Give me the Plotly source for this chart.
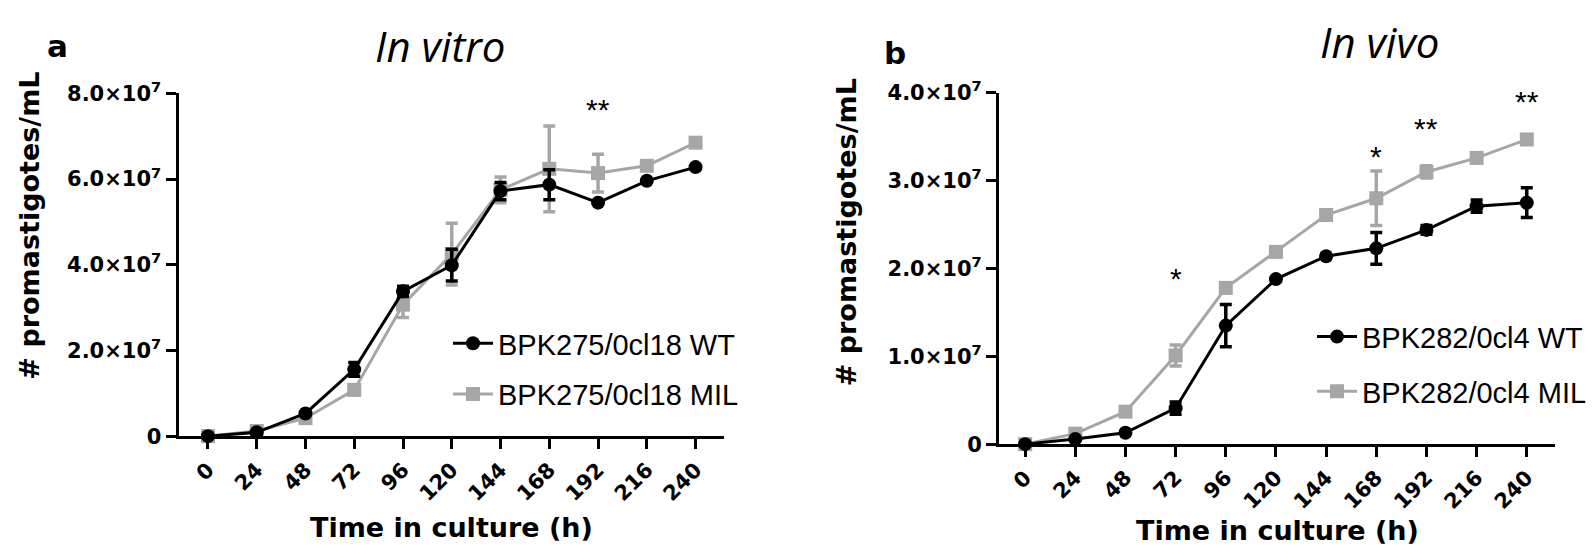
import plotly.graph_objects as go

hours = [0, 24, 48, 72, 96, 120, 144, 168, 192, 216, 240]
x_ticks = [str(h) for h in hours]

# Panel a: In vitro
vitro_wt = [0.0, 0.09e7, 0.53e7, 1.56e7, 3.38e7, 3.99e7, 5.72e7, 5.87e7, 5.45e7, 5.96e7, 6.28e7]
vitro_wt_err = [0, 0, 0, 0.16e7, 0.12e7, 0.37e7, 0.2e7, 0.35e7, 0, 0, 0]
vitro_mil = [0.0, 0.12e7, 0.42e7, 1.08e7, 3.07e7, 4.25e7, 5.75e7, 6.24e7, 6.14e7, 6.31e7, 6.85e7]
vitro_mil_err = [0, 0, 0, 0, 0.3e7, 0.72e7, 0.3e7, 1.0e7, 0.44e7, 0, 0]

# Panel b: In vivo
vivo_wt = [0.0, 0.06e7, 0.13e7, 0.41e7, 1.35e7, 1.88e7, 2.14e7, 2.23e7, 2.44e7, 2.71e7, 2.75e7]
vivo_wt_err = [0, 0, 0, 0.07e7, 0.24e7, 0, 0, 0.18e7, 0.05e7, 0.07e7, 0.17e7]
vivo_mil = [0.0, 0.12e7, 0.37e7, 1.01e7, 1.78e7, 2.19e7, 2.61e7, 2.80e7, 3.10e7, 3.26e7, 3.47e7]
vivo_mil_err = [0, 0, 0, 0.12e7, 0, 0, 0, 0.31e7, 0.07e7, 0, 0]

a_ytick_vals = [0, 2e7, 4e7, 6e7, 8e7]
a_ytick_text = ["0", "2.0×10<sup>7</sup>", "4.0×10<sup>7</sup>", "6.0×10<sup>7</sup>", "8.0×10<sup>7</sup>"]
b_ytick_vals = [0, 1e7, 2e7, 3e7, 4e7]
b_ytick_text = ["0", "1.0×10<sup>7</sup>", "2.0×10<sup>7</sup>", "3.0×10<sup>7</sup>", "4.0×10<sup>7</sup>"]

a_sig_x = [192]
a_sig_y = [7.62e7]
a_sig_text = ["**"]
b_sig_x = [72, 168, 192, 240]
b_sig_y = [1.89e7, 3.28e7, 3.59e7, 3.90e7]
b_sig_text = ["*", "*", "**", "**"]

names_a = ["BPK275/0cl18 WT", "BPK275/0cl18 MIL"]
names_b = ["BPK282/0cl4 WT", "BPK282/0cl4 MIL"]

BLACK = "#000000"
GRAY = "#a6a6a6"
BOLDFONT = "DejaVu Sans"
LEGFONT = "Liberation Sans"

fig = go.Figure()

def add_series(x, y, err, name, color, symbol, xa, ya, legend, rank):
    fig.add_trace(go.Scatter(
        x=x, y=y, name=name, mode="lines+markers",
        line=dict(color=color, width=3),
        marker=dict(color=color, symbol=symbol, size=14),
        error_y=dict(type="data", array=err, visible=True, color=color,
                     thickness=3.5, width=6),
        xaxis=xa, yaxis=ya, legend=legend, legendrank=rank,
        legendgroup=name, cliponaxis=False,
    ))

add_series(hours, vitro_mil, vitro_mil_err, names_a[1], GRAY, "square", "x", "y", "legend", 2)
add_series(hours, vitro_wt, vitro_wt_err, names_a[0], BLACK, "circle", "x", "y", "legend", 1)
add_series(hours, vivo_mil, vivo_mil_err, names_b[1], GRAY, "square", "x2", "y2", "legend2", 2)
add_series(hours, vivo_wt, vivo_wt_err, names_b[0], BLACK, "circle", "x2", "y2", "legend2", 1)

tickfont = dict(family=BOLDFONT, size=21, color="black", weight="bold")
titlefont = dict(family=BOLDFONT, size=27, color="black", weight="bold")

xcommon = dict(
    tickvals=hours, ticktext=x_ticks, tickangle=-45, tickfont=tickfont,
    showline=True, linecolor="black", linewidth=3, ticks="outside",
    ticklen=10, tickwidth=3, tickcolor="black", showgrid=False, zeroline=False,
)
ycommon = dict(
    tickfont=tickfont, showline=True, linecolor="black", linewidth=3,
    ticks="outside", ticklen=10, tickwidth=3, tickcolor="black",
    showgrid=False, zeroline=False,
)

W, H = 1596, 555
fig.update_layout(
    width=W, height=H, margin=dict(l=0, r=0, t=0, b=0),
    paper_bgcolor="white", plot_bgcolor="white",
    xaxis=dict(xcommon, domain=[170.5 / W, 716 / W], range=[-14.5, 254], anchor="y"),
    yaxis=dict(ycommon, domain=[1 - 434.3 / H, 1 - 74 / H], range=[0, 8e7],
               tickvals=a_ytick_vals, ticktext=a_ytick_text, anchor="x"),
    xaxis2=dict(xcommon, domain=[991 / W, 1547 / W], range=[-12.5, 253.5], anchor="y2"),
    yaxis2=dict(ycommon, domain=[1 - 442.7 / H, 1 - 73.5 / H], range=[0, 4e7],
                tickvals=b_ytick_vals, ticktext=b_ytick_text, anchor="x2"),
    legend=dict(x=440 / W, y=1 - 310 / H, xanchor="left", yanchor="top",
                font=dict(family=LEGFONT, size=29, color="black"),
                bgcolor="rgba(0,0,0,0)", tracegroupgap=10, itemwidth=40),
    legend2=dict(x=1304 / W, y=1 - 303 / H, xanchor="left", yanchor="top",
                 font=dict(family=LEGFONT, size=29, color="black"),
                 bgcolor="rgba(0,0,0,0)", tracegroupgap=14, itemwidth=40),
    showlegend=True,
)

for xs, ys, ts, xa, ya in [(a_sig_x, a_sig_y, a_sig_text, "x", "y"),
                           (b_sig_x, b_sig_y, b_sig_text, "x2", "y2")]:
    for xv, yv, tv in zip(xs, ys, ts):
        fig.add_annotation(x=xv, y=yv, xref=xa, yref=ya, text=tv, showarrow=False,
                           font=dict(family=LEGFONT, size=30, color="black"))

def paper_text(px, py, text, font, angle=0, xanchor="center"):
    fig.add_annotation(x=px / W, y=1 - py / H, xref="paper", yref="paper",
                       xanchor=xanchor, yanchor="middle", text=text, showarrow=False,
                       textangle=angle, font=font)

# Axis titles
paper_text(443, 530, "Time in culture (h)", titlefont)
paper_text(1269, 533, "Time in culture (h)", titlefont)
paper_text(22, 213, "# promastigotes/mL", titlefont, angle=-90)
paper_text(838, 220, "# promastigotes/mL", titlefont, angle=-90)

# Panel titles and letters
italic = dict(family="Open Sans", size=42, color="black", style="italic")
paper_text(432, 24, "In vitro", italic)
paper_text(1371, 19, "In vivo", italic)
letter = dict(family=BOLDFONT, size=31, color="black", weight="bold")
paper_text(49, 24, "a", letter)
paper_text(887, 32, "b", letter)

fig.write_html("out.html")
